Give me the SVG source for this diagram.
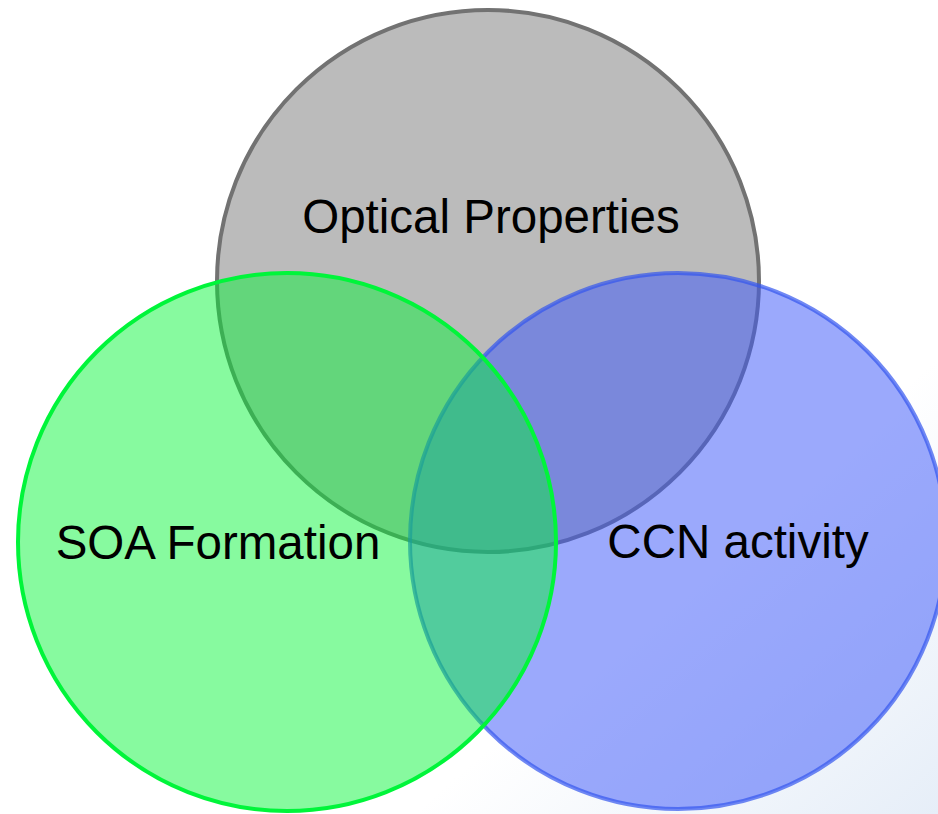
<svg xmlns="http://www.w3.org/2000/svg" width="938" height="814" viewBox="0 0 938 814">
  <defs>
    <linearGradient id="bg" x1="0" y1="0" x2="1" y2="1">
      <stop offset="0.72" stop-color="#FFFFFF"/>
      <stop offset="1" stop-color="#E6EEF8"/>
    </linearGradient>
    <style>
      .lbl { font-family: "Liberation Sans", Arial, sans-serif; font-size: 47.5px; fill: #000000; }
    </style>
  </defs>
  <rect x="0" y="0" width="938" height="814" fill="url(#bg)"/>
  <g id="optical">
    <circle cx="488" cy="281" r="271" fill="#BBBBBB" stroke="#727272" stroke-width="4"/>
    <text class="lbl" x="491" y="233" text-anchor="middle">Optical Properties</text>
  </g>
  <g id="ccn">
    <circle cx="678" cy="541" r="268" fill="#405AFA" fill-opacity="0.52" stroke="#3355EE" stroke-opacity="0.7" stroke-width="4"/>
    <text class="lbl" x="738" y="558" text-anchor="middle">CCN activity</text>
  </g>
  <g id="soa">
    <circle cx="287" cy="542" r="269" fill="#00F532" fill-opacity="0.47" stroke="#00F53A" stroke-width="4"/>
    <text class="lbl" x="218" y="559" text-anchor="middle">SOA Formation</text>
  </g>
  <g id="connectors"></g>
</svg>
